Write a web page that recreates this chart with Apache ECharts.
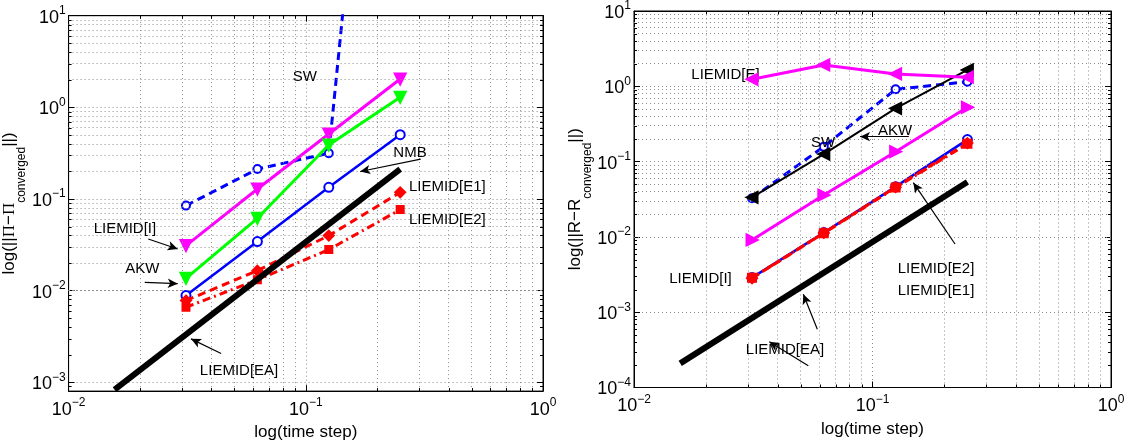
<!DOCTYPE html>
<html><head><meta charset="utf-8">
<script src="https://cdn.jsdelivr.net/npm/echarts@6/dist/echarts.min.js"></script>
<style>html,body{margin:0;padding:0;background:#fff}#c{width:1133px;height:446px}</style>
</head><body><div id="c"></div>
<script>
// ---------- data ----------
const steps = [0.03125, 0.0625, 0.125, 0.25];
const refSteps = [0.015625, 0.25];

// left panel: ||Π − Π_converged||
const leftSW       = [0.0846, 0.212, 0.316, 2e7];
const leftLiemidI  = [0.031, 0.1285, 0.512, 2.04];
const leftAKW      = [0.0136, 0.0615, 0.388, 1.29];
const leftNMB      = [0.00882, 0.0343, 0.134, 0.503];
const leftE1       = [0.00778, 0.0165, 0.0398, 0.118];
const leftE2       = [0.00658, 0.0131, 0.028, 0.0765];
const leftEA       = [0.00083, 0.212];

// right panel: ||R − R_converged||
const rightLiemidE = [1.24, 1.92, 1.46, 1.32];
const rightAKW     = [0.0335, 0.126, 0.51, 1.65];
const rightSW      = [0.0326, 0.158, 0.912, 1.15];
const rightLiemidI = [0.0091, 0.036, 0.1355, 0.526];
const rightNMB     = [0.00288, 0.0114, 0.0465, 0.196];
const rightE1      = [0.00282, 0.0113, 0.0458, 0.176];
const rightE2      = [0.00286, 0.0112, 0.0452, 0.172];
const rightEA      = [0.000209, 0.0536];

// axis ranges
const xRange = [0.01, 1];
const leftYRange = [0.0008, 10];
const rightYRange = [0.0001, 10];

// annotations (data coordinates)
const leftNoteText = ['SW', 'NMB', 'LIEMID[E1]', 'LIEMID[E2]', 'LIEMID[I]', 'AKW', 'LIEMID[EA]'];
const leftNoteX    = [0.0991, 0.275, 0.395, 0.395, 0.01727, 0.02044, 0.05231];
const leftNoteY    = [2.163, 0.3188, 0.1368, 0.05932, 0.04697, 0.01722, 0.001318];
const leftArrowFrom = [[0.305, 0.2723], [0.02167, 0.03656], [0.02094, 0.0123], [0.04395, 0.002056]];
const leftArrowTo   = [[0.1695, 0.1995], [0.02884, 0.02844], [0.02884, 0.01191], [0.03281, 0.002972]];

const rightNoteText = ['LIEMID[E]', 'SW', 'AKW', 'LIEMID[E2]', 'LIEMID[E1]', 'LIEMID[I]', 'LIEMID[EA]'];
const rightNoteX    = [0.02419, 0.06201, 0.1243, 0.1846, 0.1846, 0.019, 0.04296];
const rightNoteY    = [1.413, 0.1782, 0.2573, 0.003747, 0.00193, 0.00276, 0.0003148];
const rightArrowFrom = [[0.142, 0.2142], [0.2218, 0.008045], [0.0587, 0.0005928], [0.05381, 0.0001948]];
const rightArrowTo   = [[0.08864, 0.2142], [0.1483, 0.05245], [0.05128, 0.001729], [0.03692, 0.0004057]];

// ---------- helpers ----------
const FONT = 'Liberation Sans, Arial, Helvetica, sans-serif';
const GRIDC = '#8c8c8c';
function decadeMinors(lo, hi) {
  const out = [];
  for (let n = Math.floor(Math.log10(lo)); n < Math.ceil(Math.log10(hi)); n++) {
    for (let k = 2; k <= 9; k++) {
      const v = k * Math.pow(10, n);
      if (v > lo && v < hi) out.push(v);
    }
  }
  return out;
}
function powLabel(v) {
  const e = Math.log10(v), r = Math.round(e);
  if (Math.abs(e - r) > 1e-6) return '';
  return '{b|10}{s|' + (r < 0 ? '\u2212' + (-r) : r) + '}';
}
const tickRich = {
  b: {fontSize: 18, lineHeight: 22, verticalAlign: 'bottom', fontFamily: FONT, color: '#000'},
  s: {fontSize: 12, lineHeight: 12, verticalAlign: 'top', fontFamily: FONT, color: '#000'}
};
function xAx(grid, bottom, name) {
  return {
    type: 'log', logBase: 10, min: xRange[0], max: xRange[1], gridIndex: grid,
    position: bottom ? 'bottom' : 'top',
    axisLine: {show: true, lineStyle: {color: '#000', width: 1}},
    axisTick: {show: true, inside: true, length: 6, lineStyle: {color: '#000'}},
    minorTick: {show: false},
    axisLabel: {show: bottom, formatter: powLabel, rich: tickRich, margin: 6},
    splitLine: {show: bottom, lineStyle: {color: GRIDC, type: [1, 3], width: 1}},
    name: bottom ? name : '', nameLocation: 'middle', nameGap: 18,
    nameTextStyle: {fontSize: 17, color: '#000', fontFamily: FONT}
  };
}
function yAx(grid, left, range, nameRich, gap) {
  return {
    type: 'log', logBase: 10, min: range[0], max: range[1], gridIndex: grid,
    position: left ? 'left' : 'right',
    axisLine: {show: true, lineStyle: {color: '#000', width: 1}},
    axisTick: {show: true, inside: true, length: 6, lineStyle: {color: '#000'}},
    minorTick: {show: false},
    axisLabel: {show: left, formatter: powLabel, rich: tickRich, margin: 3},
    splitLine: {show: left, lineStyle: {color: GRIDC, type: [1, 3], width: 1}},
    name: left ? nameRich : '', nameLocation: 'middle', nameGap: gap,
    nameTextStyle: {
      color: '#000', fontFamily: FONT,
      rich: {
        n: {fontSize: 17, lineHeight: 27, verticalAlign: 'top', fontFamily: FONT, color: '#000'},
        p: {fontSize: 17, lineHeight: 27, verticalAlign: 'top', fontFamily: 'Liberation Serif, serif', color: '#000'},
        s: {fontSize: 12, lineHeight: 12, verticalAlign: 'bottom', fontFamily: FONT, color: '#000'}
      }
    }
  };
}
function line(name, xs, ys, xi, color, width, type, symbol, size, rotate, z, bw) {
  return {
    type: 'line', name: name, xAxisIndex: xi, yAxisIndex: xi, z: z,
    data: xs.map((x, i) => [x, ys[i]]),
    showSymbol: symbol !== 'none', symbol: symbol, symbolSize: size, symbolRotate: rotate || 0,
    lineStyle: {color: color, width: width, type: type},
    itemStyle: {color: color, borderColor: color, borderWidth: bw || 2},
    clip: true, silent: true, animation: false
  };
}
function gridLines(xi, yRange) {
  const xs = decadeMinors(xRange[0], xRange[1]);
  const ys = decadeMinors(yRange[0], yRange[1]);
  return {
    type: 'line', xAxisIndex: xi, yAxisIndex: xi, z: 1, data: [[0.1, 1]],
    showSymbol: false, lineStyle: {width: 0}, silent: true, animation: false,
    markLine: {
      silent: true, animation: false, symbol: ['none', 'none'], label: {show: false},
      lineStyle: {color: GRIDC, type: [1, 3], width: 1},
      emphasis: {disabled: true},
      data: xs.map(v => ({xAxis: v})).concat(ys.map(v => ({yAxis: v})))
    }
  };
}
// minor tick marks (inside, on all four sides) placed through the axes' own scales
function minorTicks(xi, yRange) {
  const xs = decadeMinors(xRange[0], xRange[1]).map(v => [v, yRange[0], 0]);
  const ys = decadeMinors(yRange[0], yRange[1]).map(v => [xRange[0], v, 1]);
  return {
    type: 'custom', xAxisIndex: xi, yAxisIndex: xi, z: 12, silent: true, animation: false,
    clip: false,
    data: xs.concat(ys),
    renderItem: function (params, api) {
      const p = api.coord([api.value(0), api.value(1)]);
      const r = params.coordSys;
      const L = 3;
      const st = {stroke: '#000', lineWidth: 1};
      if (api.value(2) === 0) {
        const x = Math.round(p[0]) + 0.5;
        return {type: 'group', children: [
          {type: 'line', shape: {x1: x, y1: r.y + r.height, x2: x, y2: r.y + r.height - L}, style: st},
          {type: 'line', shape: {x1: x, y1: r.y, x2: x, y2: r.y + L}, style: st}
        ]};
      }
      const y = Math.round(p[1]) + 0.5;
      return {type: 'group', children: [
        {type: 'line', shape: {x1: r.x, y1: y, x2: r.x + L, y2: y}, style: st},
        {type: 'line', shape: {x1: r.x + r.width, y1: y, x2: r.x + r.width - L, y2: y}, style: st}
      ]};
    }
  };
}
function notes(xi, texts, nx, ny, from, to) {
  return {
    type: 'line', xAxisIndex: xi, yAxisIndex: xi, z: 20, data: [[0.1, 1]],
    showSymbol: false, lineStyle: {width: 0}, silent: true, animation: false,
    markPoint: {
      silent: true, animation: false, symbol: 'circle', symbolSize: 1,
      itemStyle: {color: 'rgba(0,0,0,0)'},
      label: {show: true, position: 'inside', formatter: '{b}', color: '#000', fontSize: 15, fontFamily: FONT},
      data: texts.map((t, i) => ({name: t, coord: [nx[i], ny[i]]}))
    },
    markLine: {
      silent: true, animation: false, symbol: ['none', 'arrow'], symbolSize: [7, 10],
      label: {show: false}, lineStyle: {color: '#000', width: 1.2, type: 'solid'},
      emphasis: {disabled: true},
      data: from.map((f, i) => [{coord: f}, {coord: to[i]}])
    }
  };
}

const blue = '#0000ff', red = '#ff0000', mag = '#ff00ff', green = '#00ff00', black = '#000000';

const option = {
  animation: false,
  backgroundColor: '#fff',
  textStyle: {fontFamily: FONT},
  grid: [
    {left: 66.5, top: 15.7, width: 476.5, height: 376, show: true, borderColor: '#000', borderWidth: 1, backgroundColor: '#fff'},
    {left: 634, top: 11, width: 477, height: 376.5, show: true, borderColor: '#000', borderWidth: 1, backgroundColor: '#fff'}
  ],
  xAxis: [xAx(0, true, 'log(time step)'), xAx(1, true, 'log(time step)'), xAx(0, false), xAx(1, false)],
  yAxis: [
    yAx(0, true, leftYRange, '{n|log(||}{p|Π}{n|\u2212}{p|Π}{s|converged}{n|||)}', 31),
    yAx(1, true, rightYRange, '{n|log(||R\u2212R}{s|converged}{n|||)}', 28),
    yAx(0, false, leftYRange), yAx(1, false, rightYRange)
  ],
  series: [
    gridLines(0, leftYRange),
    gridLines(1, rightYRange),
    minorTicks(0, leftYRange),
    minorTicks(1, rightYRange),
    // left panel
    line('SW', steps, leftSW, 0, blue, 3, [8, 5], 'emptyCircle', 8, 0, 3, 2.5),
    line('LIEMID[I]', steps, leftLiemidI, 0, mag, 3, 'solid', 'triangle', 11, 180, 4),
    line('AKW', steps, leftAKW, 0, green, 3, 'solid', 'triangle', 11, 180, 5),
    line('NMB', steps, leftNMB, 0, blue, 2.5, 'solid', 'emptyCircle', 9, 0, 6, 2.5),
    line('LIEMID[E1]', steps, leftE1, 0, red, 3, [8, 5], 'diamond', 10, 0, 7),
    line('LIEMID[E2]', steps, leftE2, 0, red, 3, [8, 4, 2, 4], 'rect', 7, 0, 8),
    line('LIEMID[EA]', refSteps, leftEA, 0, black, 6, 'solid', 'none', 0, 0, 9),
    // right panel
    line('SW', steps, rightSW, 1, blue, 3, [8, 5], 'emptyCircle', 8, 0, 3, 2.5),
    line('NMB', steps, rightNMB, 1, blue, 2.5, 'solid', 'emptyCircle', 9, 0, 4, 2.5),
    line('LIEMID[E2]', steps, rightE2, 1, red, 3, [8, 4, 2, 4], 'rect', 8, 0, 5),
    line('LIEMID[E1]', steps, rightE1, 1, red, 3, [8, 5], 'diamond', 10, 0, 6),
    line('LIEMID[I]', steps, rightLiemidI, 1, mag, 3, 'solid', 'triangle', 11, -90, 7),
    line('AKW', steps, rightAKW, 1, black, 2, 'solid', 'triangle', 11, 90, 8),
    line('LIEMID[E]', steps, rightLiemidE, 1, mag, 3, 'solid', 'triangle', 11, 90, 9),
    line('LIEMID[EA]', refSteps, rightEA, 1, black, 6, 'solid', 'none', 0, 0, 10),
    notes(0, leftNoteText, leftNoteX, leftNoteY, leftArrowFrom, leftArrowTo),
    notes(1, rightNoteText, rightNoteX, rightNoteY, rightArrowFrom, rightArrowTo)
  ]
};
const chart = echarts.init(document.getElementById('c'), null, {renderer: 'canvas'});
chart.setOption(option);
</script></body></html>
